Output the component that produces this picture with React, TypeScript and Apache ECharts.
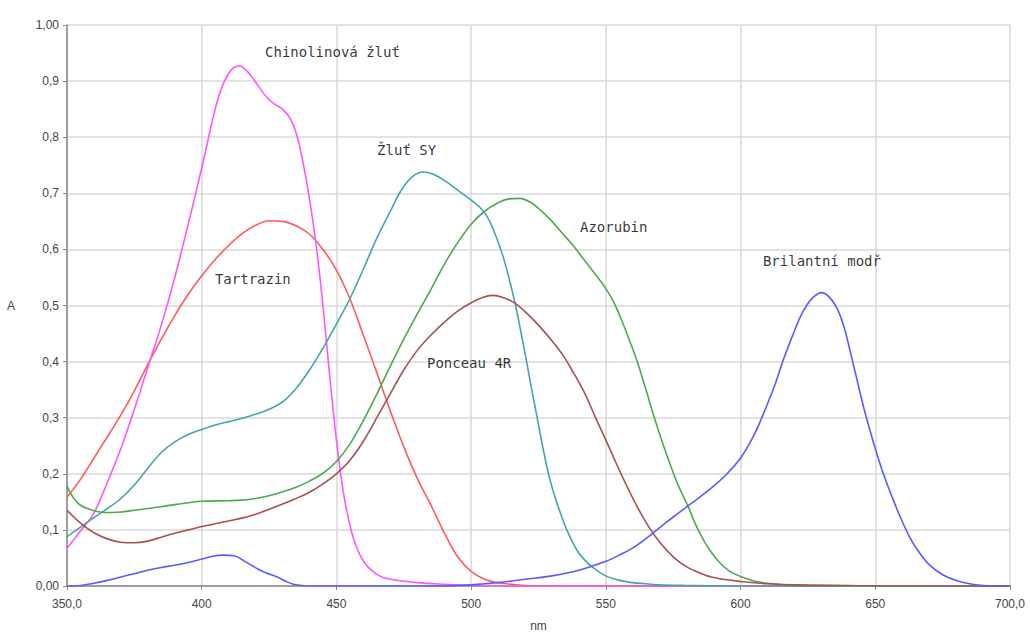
import React, { useEffect, useRef } from "react";
import * as echarts from "echarts";

const xTicks = [350, 400, 450, 500, 550, 600, 650, 700];
const xTickLabels = ["350,0", "400", "450", "500", "550", "600", "650", "700,0"];
const yTickLabels = ["0,00", "0,1", "0,2", "0,3", "0,4", "0,5", "0,6", "0,7", "0,8", "0,9", "1,00"];

const tartrazin: [number, number][] = [
  [350, 0.158], [355, 0.19], [360, 0.228], [365, 0.266], [370, 0.305], [375, 0.348], [380, 0.395],
  [385, 0.44], [390, 0.482], [395, 0.52], [400, 0.553], [405, 0.582], [410, 0.607], [415, 0.628],
  [420, 0.643], [425, 0.651], [430, 0.65], [435, 0.642], [440, 0.627], [445, 0.6], [450, 0.563],
  [455, 0.512], [460, 0.447], [465, 0.38], [470, 0.312], [475, 0.248], [480, 0.192], [485, 0.145],
  [490, 0.095], [495, 0.052], [500, 0.026], [505, 0.012], [510, 0.006], [520, 0.001], [530, 0],
  [600, 0], [700, 0],
];

const chinolin: [number, number][] = [
  [350, 0.067], [355, 0.098], [360, 0.13], [365, 0.185], [370, 0.245], [375, 0.315],
  [380, 0.39], [385, 0.465], [390, 0.55], [395, 0.645], [400, 0.745], [405, 0.85],
  [408, 0.895], [411, 0.92], [414, 0.927], [417, 0.917], [420, 0.898], [424, 0.872], [427, 0.859],
  [430, 0.85], [433, 0.832], [435.5, 0.8], [438, 0.745], [440, 0.69], [442, 0.625],
  [444, 0.545], [446, 0.45], [448, 0.35], [450, 0.26], [452, 0.185], [454, 0.13], [457, 0.075],
  [461, 0.038], [466, 0.018], [470, 0.012], [480, 0.006], [490, 0.003], [500, 0.001], [510, 0],
  [600, 0], [700, 0],
];

const zlutSY: [number, number][] = [
  [350, 0.088], [355, 0.105], [360, 0.122], [365, 0.138], [370, 0.156], [375, 0.18], [380, 0.21],
  [385, 0.238], [390, 0.257], [395, 0.27], [400, 0.279], [405, 0.287], [410, 0.293], [415, 0.299],
  [420, 0.306], [425, 0.315], [430, 0.328], [435, 0.352], [440, 0.385], [445, 0.424], [450, 0.467],
  [455, 0.512], [460, 0.565], [465, 0.62], [470, 0.668], [474, 0.705], [478, 0.729], [482, 0.738],
  [486, 0.734], [491, 0.72], [496, 0.702], [500, 0.688], [503, 0.676], [506, 0.658], [509, 0.626],
  [512, 0.585], [514.5, 0.54], [516.5, 0.5], [518.5, 0.452], [520.5, 0.402], [522.5, 0.35],
  [524.5, 0.3], [526.5, 0.25], [528.7, 0.2], [531, 0.16], [533, 0.132], [535.5, 0.1], [539, 0.066],
  [542, 0.047], [545.5, 0.032], [550, 0.018], [555, 0.01], [560, 0.006], [565, 0.004], [570, 0.002],
  [580, 0.001], [600, 0], [700, 0],
];

const azorubin: [number, number][] = [
  [350, 0.178], [352, 0.16], [355, 0.144], [360, 0.134], [364, 0.131], [370, 0.132], [375, 0.135],
  [380, 0.138], [390, 0.145], [400, 0.151], [410, 0.152], [415, 0.153], [420, 0.156], [425, 0.161],
  [430, 0.168], [435, 0.176], [440, 0.187], [445, 0.201], [450, 0.222], [455, 0.253], [460, 0.295],
  [465, 0.342], [470, 0.392], [475, 0.44], [480, 0.485], [485, 0.528], [490, 0.573],
  [495, 0.612], [500, 0.645], [505, 0.668], [510, 0.683], [514, 0.69], [518, 0.691], [522, 0.684],
  [526, 0.669], [530, 0.65], [534, 0.628], [538, 0.606], [542, 0.581], [546, 0.556], [550, 0.53],
  [553, 0.505], [556, 0.472], [559, 0.435], [562, 0.395], [565, 0.348], [568, 0.3], [571, 0.256],
  [574, 0.215], [577, 0.178], [580.6, 0.141], [583, 0.113], [586, 0.084],
  [589, 0.061], [592.4, 0.041], [596, 0.026], [600, 0.017], [605, 0.009], [610, 0.005], [620, 0.001],
  [630, 0], [700, 0],
];

const ponceau: [number, number][] = [
  [350, 0.135], [355, 0.112], [360, 0.095], [365, 0.084], [370, 0.078], [375, 0.077], [380, 0.08],
  [385, 0.087], [390, 0.094], [395, 0.1], [400, 0.106], [405, 0.111], [410, 0.116], [415, 0.121],
  [420, 0.128], [425, 0.137], [430, 0.146], [435, 0.156], [440, 0.167], [445, 0.182], [450, 0.2],
  [455, 0.224], [460, 0.258], [465, 0.3], [470, 0.343], [475, 0.385], [480, 0.42], [485, 0.447],
  [490, 0.47], [495, 0.49], [500, 0.505], [504, 0.514], [508, 0.518], [512, 0.514], [516, 0.505],
  [520, 0.489], [525, 0.465], [530, 0.437], [534, 0.412], [538, 0.38], [542, 0.345], [546, 0.302],
  [550, 0.26], [554, 0.217], [558, 0.176], [562, 0.138], [566, 0.105], [570, 0.078],
  [575, 0.052], [580, 0.034], [585, 0.023], [590, 0.015], [600, 0.008], [610, 0.004],
  [620, 0.002], [640, 0.001], [660, 0], [700, 0],
];

const brilant: [number, number][] = [
  [350, 0], [355, 0.001], [360, 0.005], [365, 0.01], [370, 0.016], [375, 0.022], [380, 0.028],
  [385, 0.033], [390, 0.037], [395, 0.042], [400, 0.048], [404, 0.053], [408, 0.055], [412, 0.054],
  [415, 0.047], [418, 0.038], [421, 0.03], [424, 0.023], [428, 0.016], [431, 0.009], [434, 0.003],
  [437, 0.001], [440, 0], [490, 0], [500, 0.002], [505, 0.004], [510, 0.006], [520, 0.012],
  [530, 0.018], [540, 0.028], [550, 0.044], [555, 0.055], [560, 0.068], [565, 0.085], [570, 0.104],
  [575, 0.123], [580, 0.141], [585, 0.159], [590, 0.178], [595, 0.2], [600, 0.228], [604, 0.26],
  [607, 0.29], [610, 0.325], [613, 0.362], [616, 0.405], [619.6, 0.45], [622, 0.478], [624.5, 0.5],
  [627, 0.515], [630, 0.523], [633, 0.515], [636, 0.493], [638.5, 0.46], [640.6, 0.42],
  [643, 0.372], [645.6, 0.32], [648, 0.278], [650, 0.245], [653, 0.2], [656.7, 0.153], [660, 0.115],
  [663, 0.085], [666, 0.062], [670, 0.038], [675, 0.02], [680, 0.01], [685, 0.004], [690, 0.001],
  [695, 0], [700, 0],
];

const seriesNames = ["Tartrazin", "Chinolinová žluť", "Žluť SY", "Azorubin", "Ponceau 4R", "Brilantní modř"];
const seriesData = [tartrazin, chinolin, zlutSY, azorubin, ponceau, brilant];
const seriesColors = ["#ff5a5a", "#ff55ff", "#45a5aa", "#4caa4c", "#a85050", "#5a5aff"];

// annotation anchors (left edge, vertical centre) in data units
const annotations: [number, number, string][] = [
  [423.5, 0.952, "Chinolinová žluť"],
  [465.1, 0.777, "Žluť SY"],
  [540.4, 0.64, "Azorubin"],
  [404.9, 0.547, "Tartrazin"],
  [608.3, 0.579, "Brilantní modř"],
  [483.6, 0.397, "Ponceau 4R"],
];

export default function App() {
  const ref = useRef<HTMLDivElement>(null);
  useEffect(() => {
    if (!ref.current) return;
    const chart = echarts.init(ref.current, undefined, { renderer: "svg" });
    const lineSeries = seriesData.map((d, i) => ({
      type: "line",
      name: seriesNames[i],
      data: d,
      smooth: 0.35,
      showSymbol: false,
      symbol: "none",
      lineStyle: { color: seriesColors[i], width: 1.6 },
      itemStyle: { color: seriesColors[i] },
      z: 3,
    }));
    chart.setOption({
      animation: false,
      backgroundColor: "#ffffff",
      grid: { left: 67, right: 20, top: 25, bottom: 50, outerBoundsMode: "none", containLabel: false },
      xAxis: {
        type: "value",
        min: 350,
        max: 700,
        interval: 50,
        name: "nm",
        nameLocation: "middle",
        nameGap: 34,
        nameTextStyle: { color: "#444", fontSize: 12, fontFamily: "Liberation Sans" },
        axisLine: { show: true, lineStyle: { color: "#888", width: 1.5 } },
        axisTick: { show: true, length: 4, lineStyle: { color: "#888" } },
        splitLine: { show: true, lineStyle: { color: "#d8d8d8", width: 1.5 } },
        axisLabel: {
          color: "#444",
          fontSize: 12,
          fontFamily: "Liberation Sans",
          margin: 12,
          formatter: (v: number) => {
            const idx = xTicks.indexOf(Math.round(v));
            return idx >= 0 ? xTickLabels[idx] : "";
          },
        },
      },
      yAxis: {
        type: "value",
        min: 0,
        max: 1,
        interval: 0.1,
        name: "A",
        nameLocation: "middle",
        nameGap: 52,
        nameRotate: 0,
        nameTextStyle: { color: "#444", fontSize: 12, fontFamily: "Liberation Sans" },
        axisLine: { show: true, lineStyle: { color: "#888", width: 1.5 } },
        axisTick: { show: true, length: 4, lineStyle: { color: "#888" } },
        splitLine: { show: true, lineStyle: { color: "#d8d8d8", width: 1.5 } },
        axisLabel: {
          color: "#444",
          fontSize: 12,
          fontFamily: "Liberation Sans",
          margin: 8,
          formatter: (v: number) => yTickLabels[Math.round(v * 10)] ?? "",
        },
      },
      series: [
        ...lineSeries,
        {
          type: "scatter",
          data: annotations.map((a) => ({ value: [a[0], a[1]], name: a[2] })),
          symbolSize: 0,
          silent: true,
          z: 5,
          label: {
            show: true,
            position: "right",
            distance: 0,
            formatter: (p: any) => p.name,
            color: "#000",
            fontSize: 14,
            fontFamily: "DejaVu Sans Mono",
          },
        },
      ],
    });
    return () => chart.dispose();
  }, []);
  return (
    <div
      ref={ref}
      style={{ position: "fixed", left: 0, top: 0, width: 1030, height: 636, background: "#fff" }}
    />
  );
}
